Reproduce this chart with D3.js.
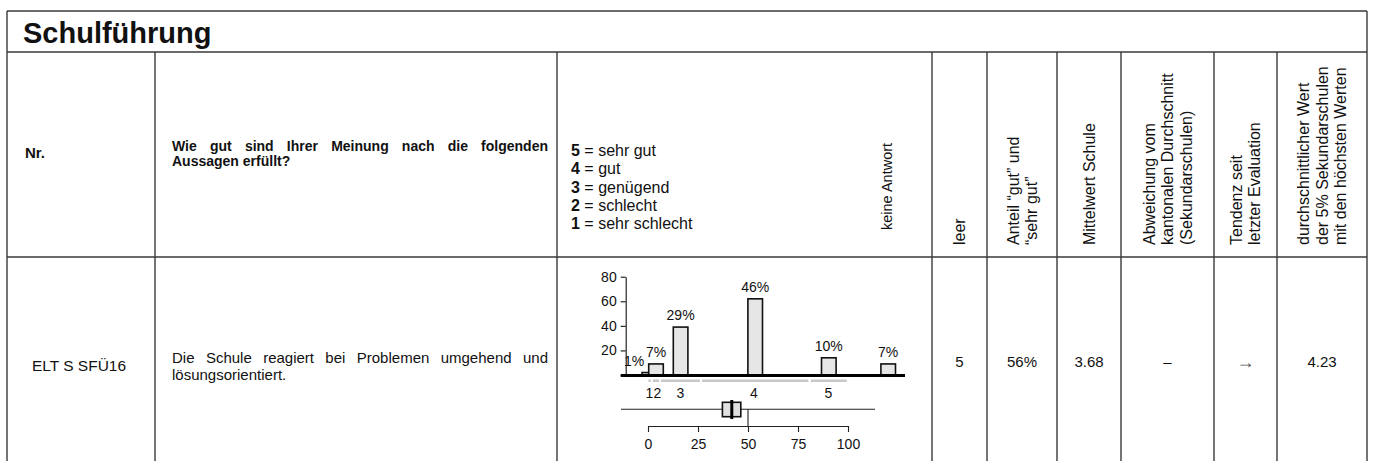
<!DOCTYPE html>
<html><head><meta charset="utf-8">
<script src="https://cdn.jsdelivr.net/npm/d3@7"></script>
<style>
body{margin:0;background:#fff}
svg{display:block}
text{font-family:"Liberation Sans",Arial,Helvetica,sans-serif;fill:#111}
</style>
</head><body><svg id="c" width="1374" height="461"></svg>
<script>
// ---------- data ----------
const sectionTitle = "Schulführung";
const headerNr = "Nr.";
const headerQuestionLines = ["Wie gut sind Ihrer Meinung nach die folgenden", "Aussagen erfüllt?"];
const legendCodes = ["5", "4", "3", "2", "1"];
const legendLabels = ["sehr gut", "gut", "genügend", "schlecht", "sehr schlecht"];
const noAnswerLabel = "keine Antwort";
const statHeaders = [
  ["leer"],
  ["Anteil “gut” und", "“sehr gut”"],
  ["Mittelwert Schule"],
  ["Abweichung vom", "kantonalen Durchschnitt", "(Sekundarschulen)"],
  ["Tendenz seit", "letzter Evaluation"],
  ["durchschnittlicher Wert", "der 5% Sekundarschulen", "mit den höchsten Werten"]
];
const itemId = "ELT S SFÜ16";
const itemTextLines = ["Die Schule reagiert bei Problemen umgehend und", "lösungsorientiert."];
const statValues = ["5", "56%", "3.68", "–", "→", "4.23"];

const barCategories = ["1", "2", "3", "4", "5", "keine Antwort"];
const barCounts = [2, 9, 39, 62, 14, 9];
const barPercents = ["1%", "7%", "29%", "46%", "10%", "7%"];
const barPositions = [0.65, 4, 16.3, 53.6, 90.4, 120.1];
const percentLabelPositions = [-7, 4, 16.3, 53.6, 90.4, 120.1];
const yTicks = [0, 20, 40, 60, 80];
const scaleSegments = [[0.2, 1.4], [2.4, 5.6], [6.5, 26], [27, 80.2], [81.4, 99.4]];
const scaleSegmentLabels = ["12", "3", "4", "5"];
const scaleSegmentLabelPositions = [2.7, 16.2, 53, 90.2];
const boxQ1 = 37.2, boxMedian = 41.9, boxQ3 = 46.4, referenceValue = 50;
const indexTicks = [0, 25, 50, 75, 100];

// ---------- layout ----------
const svg = d3.select("#c");
const cols = [7, 155, 557, 932, 987, 1057, 1121, 1214, 1277, 1367];
const yTop = 11, yTitle = 52, yHead = 257, yBottom = 470;
const lineColor = "#3a3a3a";
const FS = 15, FSH = 14, FSR = 16, FSL = 16, FSC = 14;

// borders
const g0 = svg.append("g").attr("stroke", lineColor).attr("stroke-width", 1.4).attr("fill", "none");
g0.append("line").attr("x1", cols[0]).attr("x2", cols[cols.length-1]).attr("y1", yTop).attr("y2", yTop);
g0.append("line").attr("x1", cols[0]).attr("x2", cols[cols.length-1]).attr("y1", yTitle).attr("y2", yTitle);
g0.append("line").attr("x1", cols[0]).attr("x2", cols[cols.length-1]).attr("y1", yHead).attr("y2", yHead);
g0.append("line").attr("x1", cols[0]).attr("x2", cols[0]).attr("y1", yTop).attr("y2", yBottom);
g0.append("line").attr("x1", cols[cols.length-1]).attr("x2", cols[cols.length-1]).attr("y1", yTop).attr("y2", yBottom);
cols.slice(1, -1).forEach(c => g0.append("line").attr("x1", c).attr("x2", c).attr("y1", yTitle).attr("y2", yBottom));

// title
svg.append("text").attr("x", 23).attr("y", 43).attr("font-size", 29).attr("font-weight", "bold").text(sectionTitle);

// justified text helper
function drawLines(lines, x, width, y0, lh, fs, weight) {
  lines.forEach((ln, i) => {
    const t = svg.append("text").attr("x", x).attr("y", y0 + i * lh).attr("font-size", fs)
      .attr("font-weight", weight).text(ln);
    const n = ln.split(" ").length - 1;
    if (i < lines.length - 1 && n > 0) {
      const L = t.node().getComputedTextLength();
      t.style("word-spacing", ((width - L) / n) + "px");
    }
  });
}

// header
svg.append("text").attr("x", 25).attr("y", 158).attr("font-size", 15).attr("font-weight", "bold").text(headerNr);
drawLines(headerQuestionLines, 172, 376, 151, 15, FSH, "bold");

// legend
const lg = svg.append("g");
legendCodes.forEach((c, i) => {
  const t = lg.append("text").attr("x", 571).attr("y", 156 + i * 18.3).attr("font-size", FSL);
  t.append("tspan").attr("font-weight", "bold").text(c);
  t.append("tspan").text(" = " + legendLabels[i]);
});

// rotated headers
function rotLines(lines, cx, bottom, lh, fs) {
  const n = lines.length;
  lines.forEach((ln, i) => {
    const bx = cx + (i - (n - 1) / 2) * lh + fs * 0.36;
    svg.append("text").attr("x", bx).attr("y", bottom).attr("font-size", fs)
      .attr("transform", `rotate(-90,${bx},${bottom})`).text(ln);
  });
}
rotLines([noAnswerLabel], 887, 230, 18.3, 14.5);
statHeaders.forEach((h, i) => {
  rotLines(h, (cols[i + 3] + cols[i + 4]) / 2, 245, 18.3, FSR);
});

// data row
svg.append("text").attr("x", (cols[0] + cols[1]) / 2 - 2).attr("y", 371).attr("font-size", 15.5)
  .attr("text-anchor", "middle").text(itemId);
drawLines(itemTextLines, 172, 376, 363, 17, FS, "normal");
statValues.forEach((v, i) => {
  const isArrow = v === "→";
  svg.append("text").attr("x", (cols[i + 3] + cols[i + 4]) / 2).attr("y", isArrow ? 367.5 : 367)
    .attr("font-size", isArrow ? 18 : FS)
    .attr("text-anchor", "middle").style("fill", isArrow ? "#555" : "#111").text(v);
});

// ---------- chart ----------
const x = d3.scaleLinear().domain([0, 100]).range([648, 848]);
const y = d3.scaleLinear().domain([0, 80]).range([375, 276.7]);
const barW = x(7.3) - x(0);
const plotExtent = [-13.5, 113.5];
const axisX = 625.7;

const ch = svg.append("g");
// y axis
const ya = ch.append("g").attr("transform", `translate(${axisX},0)`)
  .call(d3.axisLeft(y).tickValues(yTicks).tickSize(5).tickSizeOuter(0).tickPadding(4)
    .tickFormat(d => d === 0 ? "" : d));
ya.selectAll("text").attr("font-size", FSC).attr("font-family", null).style("fill", "#111");
ya.selectAll("line,path").attr("stroke", "#111").attr("stroke-width", 1.1);

// bars
ch.selectAll("rect.bar").data(barCounts).join("rect").attr("class", "bar")
  .attr("x", (d, i) => x(barPositions[i]) - barW / 2)
  .attr("y", d => y(d))
  .attr("width", barW)
  .attr("height", d => y(0) - y(d))
  .attr("fill", "#e6e6e6").attr("stroke", "#111").attr("stroke-width", 1.6);

// baseline
ch.append("line").attr("x1", axisX - 5).attr("x2", x(plotExtent[1]) + 30).attr("y1", y(0) + 0.5).attr("y2", y(0) + 0.5)
  .attr("stroke", "#000").attr("stroke-width", 3);

// percent labels
ch.selectAll("text.pct").data(barPercents).join("text").attr("class", "pct")
  .attr("x", (d, i) => x(percentLabelPositions[i]))
  .attr("y", (d, i) => y(barCounts[i]) - 7)
  .attr("text-anchor", "middle").attr("font-size", FSC).text(d => d);

// scale segments
ch.selectAll("line.seg").data(scaleSegments).join("line").attr("class", "seg")
  .attr("x1", d => x(d[0])).attr("x2", d => x(d[1]))
  .attr("y1", 380.7).attr("y2", 380.7).attr("stroke", "#c8c8c8").attr("stroke-width", 2.5);
ch.selectAll("text.segl").data(scaleSegmentLabels).join("text").attr("class", "segl")
  .attr("x", (d, i) => x(scaleSegmentLabelPositions[i])).attr("y", 397.5)
  .attr("text-anchor", "middle").attr("font-size", FSC).text(d => d);

// boxplot
const yBox = 409.3;
ch.append("line").attr("x1", x(plotExtent[0])).attr("x2", x(plotExtent[1])).attr("y1", yBox).attr("y2", yBox)
  .attr("stroke", "#222").attr("stroke-width", 1.1);
ch.append("line").attr("x1", x(referenceValue)).attr("x2", x(referenceValue)).attr("y1", yBox).attr("y2", 426)
  .attr("stroke", "#222").attr("stroke-width", 1.1);
ch.append("rect").attr("x", x(boxQ1)).attr("y", yBox - 7).attr("width", x(boxQ3) - x(boxQ1)).attr("height", 14.4)
  .attr("fill", "#e0e0e0").attr("stroke", "#111").attr("stroke-width", 1.6);
ch.append("line").attr("x1", x(boxMedian)).attr("x2", x(boxMedian)).attr("y1", yBox - 9.3).attr("y2", yBox + 9.7)
  .attr("stroke", "#000").attr("stroke-width", 3);

// index axis
const xa = ch.append("g").attr("transform", "translate(0,426)")
  .call(d3.axisBottom(x).tickValues(indexTicks).tickSize(6).tickSizeOuter(0).tickPadding(7));
xa.selectAll("text").attr("font-size", FSC).attr("font-family", null).style("fill", "#111");
xa.selectAll("line,path").attr("stroke", "#222").attr("stroke-width", 1.1);
</script>
</body></html>
